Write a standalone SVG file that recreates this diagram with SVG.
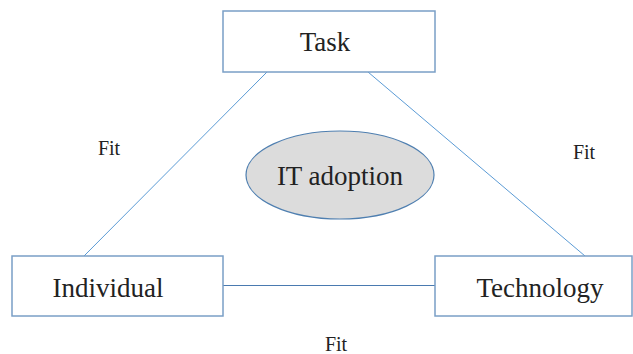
<svg xmlns="http://www.w3.org/2000/svg" width="633" height="354" viewBox="0 0 633 354">
<style>
.box{fill:#fff;stroke:#7a9fc6;stroke-width:1.5}
text{font-family:"Liberation Serif","Times New Roman",Times,"DejaVu Serif",serif;fill:#222;text-anchor:middle}
.lbl{font-size:27px}
.fit{font-size:20px}
.conn{stroke:#5b9bd5;stroke-width:1;fill:none}
</style>
<rect width="633" height="354" fill="#fff"/>
<g id="connectors">
<line class="conn" x1="267" y1="72" x2="84" y2="256"/>
<line class="conn" x1="368" y1="72" x2="585" y2="256"/>
<line x1="223" y1="285.5" x2="435" y2="285.5" stroke="#4a7ab0" stroke-width="1"/>
</g>
<g id="task">
<rect class="box" x="223" y="11" width="212" height="61"/>
<text class="lbl" x="325" y="51">Task</text>
</g>
<g id="individual">
<rect class="box" x="12" y="256" width="211" height="60"/>
<text class="lbl" x="108" y="297">Individual</text>
</g>
<g id="technology">
<rect class="box" x="435" y="256" width="197" height="60"/>
<text class="lbl" x="540" y="297">Technology</text>
</g>
<g id="it-adoption">
<ellipse cx="340" cy="175" rx="94" ry="44" fill="#dcdcdc" stroke="#4f7fb0" stroke-width="1.2"/>
<text class="lbl" x="340" y="185">IT adoption</text>
</g>
<g id="labels">
<text class="fit" x="109" y="155">Fit</text>
<text class="fit" x="584" y="159">Fit</text>
<text class="fit" x="336" y="351">Fit</text>
</g>
</svg>
